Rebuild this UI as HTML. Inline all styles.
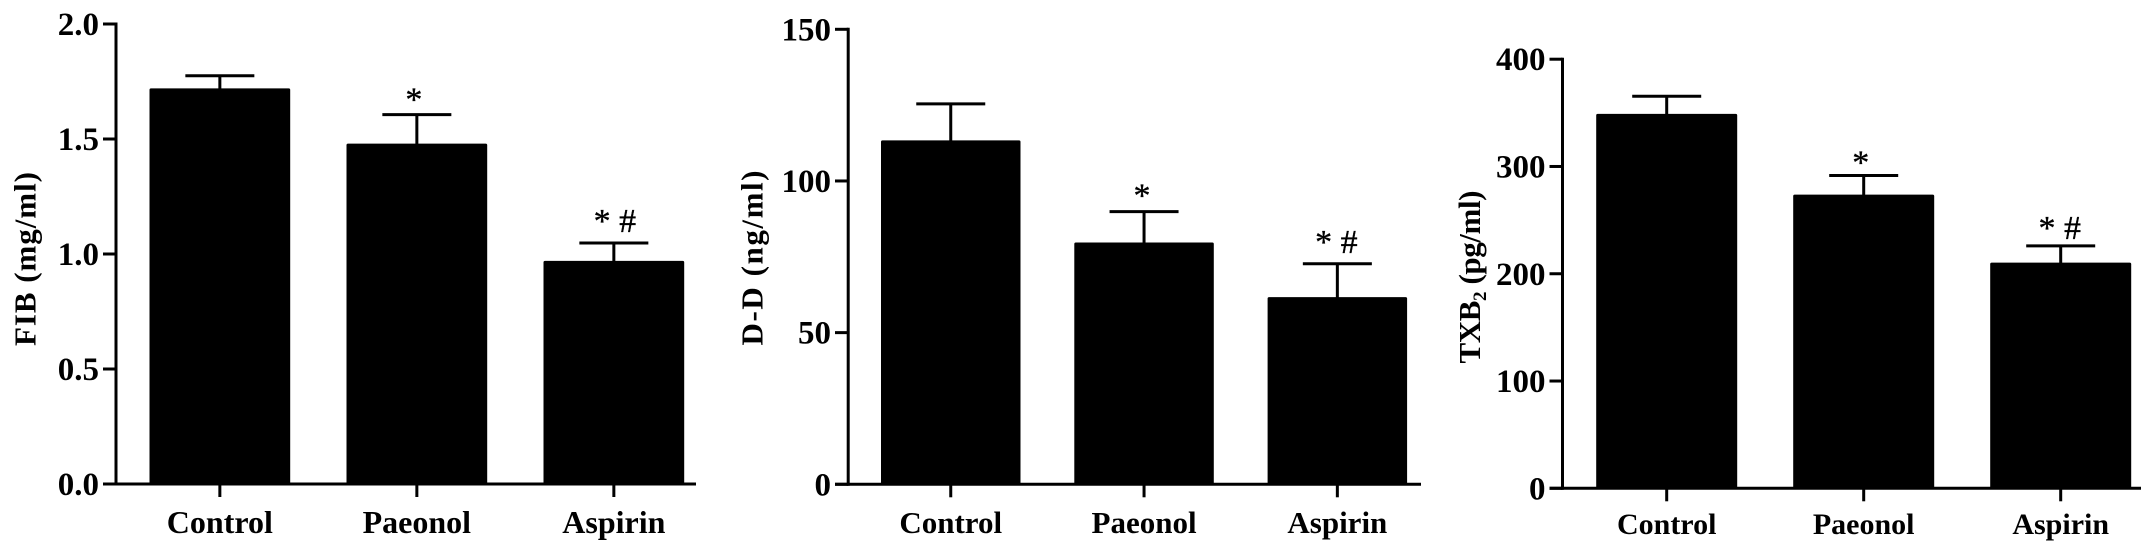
<!DOCTYPE html>
<html lang="en">
<head>
<meta charset="utf-8">
<title>FIB, D-D and TXB2 bar charts</title>
<style>
html,body{margin:0;padding:0;background:#fff;width:2150px;height:552px;overflow:hidden}
svg{display:block}
text{font-family:"Liberation Serif",serif;fill:#000}
.b{font-weight:700}
</style>
</head>
<body>
<svg id="chart" xmlns="http://www.w3.org/2000/svg" width="2150" height="552" viewBox="0 0 2150 552"></svg>
<script>
const categories = ["Control", "Paeonol", "Aspirin"];
const annotations = ["", "*", "* #"];

const fibValues = [1.72, 1.48, 0.97];
const fibErrorTops = [1.775, 1.606, 1.048];
const fibTicks = [0, 0.5, 1, 1.5, 2];
const fibTickLabels = ["0.0", "0.5", "1.0", "1.5", "2.0"];

const ddValues = [113.4, 79.7, 61.7];
const ddErrorTops = [125.4, 89.9, 72.7];
const ddTicks = [0, 50, 100, 150];
const ddTickLabels = ["0", "50", "100", "150"];

const txbValues = [349, 273.8, 210.4];
const txbErrorTops = [365.5, 291.6, 226];
const txbTicks = [0, 100, 200, 300, 400];
const txbTickLabels = ["0", "100", "200", "300", "400"];

const svg = document.getElementById('chart');
const NS = 'http://www.w3.org/2000/svg';

function mk(parent, tag, props, txt) {
  const el = document.createElementNS(NS, tag);
  for (const k in props) el.setAttribute(k, props[k]);
  if (txt !== undefined) el.textContent = txt;
  parent.appendChild(el);
  return el;
}

function drawPanel(p) {
  const yScale = v => p.baseY - (v / p.maxV) * (p.baseY - p.topY);
  const barLeft = i => p.firstBar + i * p.step;
  const barCenter = i => barLeft(i) + p.barW / 2;

  const g = mk(svg, 'g', {});
  
  

  p.values.forEach((v, i) => {
    const cx = barCenter(i);
    const stem = mk(g, 'line', {x1: cx, x2: cx, y1: yScale(p.errs[i]), y2: yScale(v) + 1, stroke: '#000', 'stroke-width': 3});
    
    

    const cap = mk(g, 'line', {x1: cx - 34.5, x2: cx + 34.5, y1: yScale(p.errs[i]), y2: yScale(p.errs[i]), stroke: '#000', 'stroke-width': 3});
    
    

    const bar = mk(g, 'rect', {x: barLeft(i), y: yScale(v), width: p.barW, height: p.baseY - yScale(v), rx: 1.5, fill: '#000'});
    
    

    const tick = mk(g, 'line', {x1: cx, x2: cx, y1: p.baseY, y2: p.baseY + 13, stroke: '#000', 'stroke-width': 3});
    
    

    const lab = mk(g, 'text', {x: cx, y: p.labelY, 'text-anchor': 'middle', 'font-size': p.xFont, class: 'b'}, categories[i]);
    
    

    if (annotations[i]) {
      const mark = mk(g, 'text', {x: cx + p.markDx[i], y: yScale(p.errs[i]) - p.markGap[i], 'text-anchor': 'middle', 'font-size': 34, stroke: '#000', 'stroke-width': 0.35}, annotations[i]);
      
      
    }
  });

  p.ticks.forEach((t, i) => {
    const y = yScale(t);
    const tk = mk(g, 'line', {x1: p.tickLeft, x2: p.axisX, y1: y, y2: y, stroke: '#000', 'stroke-width': 3});
    
    

    const tl = mk(g, 'text', {x: p.tickLeft - 4, y: y + 11, 'text-anchor': 'end', 'font-size': 33, class: 'b'}, p.tickLabels[i]);
    
    
  });

  const yAxis = mk(g, 'line', {x1: p.axisX, x2: p.axisX, y1: p.topY - 1.5, y2: p.baseY + 1.5, stroke: '#000', 'stroke-width': 3});
  
  

  const xAxis = mk(g, 'line', {x1: p.tickLeft, x2: p.endX, y1: p.baseY, y2: p.baseY, stroke: '#000', 'stroke-width': 3});
  
  

  const title = mk(g, 'text', {
    transform: 'translate(' + p.titleX + ' ' + p.titleY + ') rotate(-90)',
    'text-anchor': 'middle', 'font-size': 31, class: 'b',
    textLength: p.titleLen, lengthAdjust: 'spacing'
  });
  
  
  p.title.forEach(part => {
    const s = mk(title, 'tspan', part.sub ? {'font-size': 19, dy: 6} : (part.after ? {dy: -6} : {}), part.t);
    
    
  });
}

drawPanel({
  key: 'fib', values: fibValues, errs: fibErrorTops, ticks: fibTicks, tickLabels: fibTickLabels, maxV: 2,
  axisX: 116, tickLeft: 103, endX: 696, topY: 24, baseY: 484,
  firstBar: 149.5, step: 197, barW: 140.7, xFont: 32, labelY: 533,
  markGap: [0, 4, 11], markDx: [0, -3, 1],
  titleX: 35.5, titleY: 259, titleLen: 174, title: [{t: 'FIB (mg/ml)'}]
});
drawPanel({
  key: 'dd', values: ddValues, errs: ddErrorTops, ticks: ddTicks, tickLabels: ddTickLabels, maxV: 150,
  axisX: 848.2, tickLeft: 835, endX: 1421, topY: 29.3, baseY: 484.3,
  firstBar: 881, step: 193.3, barW: 139.5, xFont: 31, labelY: 533,
  markGap: [0, 5, 11], markDx: [0, -2, -1],
  titleX: 762.5, titleY: 258, titleLen: 175, title: [{t: 'D-D (ng/ml)'}]
});
drawPanel({
  key: 'txb', values: txbValues, errs: txbErrorTops, ticks: txbTicks, tickLabels: txbTickLabels, maxV: 400,
  axisX: 1562.5, tickLeft: 1549.5, endX: 2141, topY: 59.2, baseY: 488.3,
  firstBar: 1596.2, step: 197, barW: 141, xFont: 30, labelY: 534,
  markGap: [0, 2, 7], markDx: [0, -3, -1],
  titleX: 1480, titleY: 277, titleLen: 173, title: [{t: 'TXB'}, {t: '2', sub: true}, {t: ' (pg/ml)', after: true}]
});
</script>
</body>
</html>
